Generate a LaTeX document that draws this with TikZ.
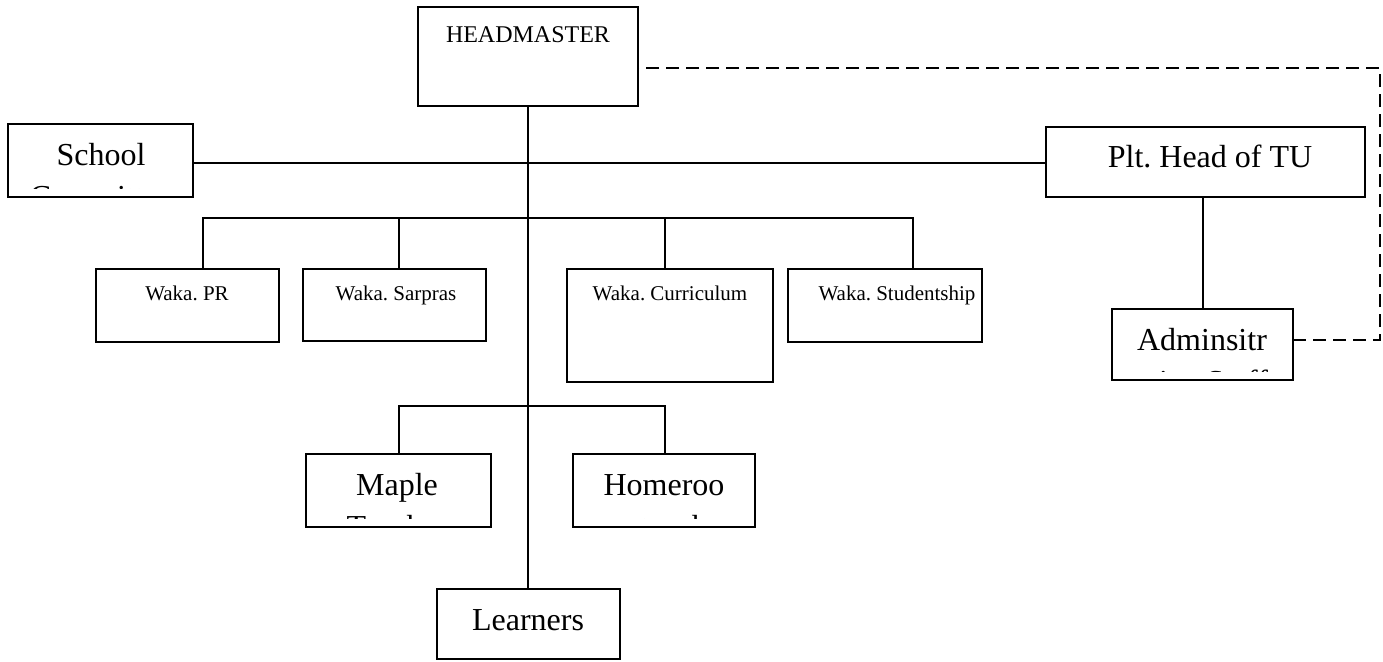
\documentclass[tikz,border=0pt]{standalone}
\usepackage{fontspec}
\setmainfont{Liberation Serif}
\frenchspacing
\begin{document}
\begin{tikzpicture}[x=1pt,y=-1pt,
  box/.style={draw,line width=1.6pt,rectangle,inner sep=0pt,outer sep=0pt,anchor=north west},
  ln/.style={line width=1.6pt},
  dln/.style={line width=1.6pt,dash pattern=on 13pt off 7pt},
  big/.style={anchor=base,inner sep=0pt,font=\fontsize{32}{38}\selectfont},
  mid/.style={anchor=base,inner sep=0pt,font=\fontsize{24}{28}\selectfont},
  sml/.style={anchor=base,inner sep=0pt,font=\fontsize{21}{25}\selectfont}]
\useasboundingbox (0,0) rectangle (1383,661);
% boxes
\node[box,minimum width=220pt,minimum height=99pt] (hm) at (418,7) {};
\node[box,minimum width=185pt,minimum height=73pt] (sc) at (8,124) {};
\node[box,minimum width=319pt,minimum height=70pt] (plt) at (1046,127) {};
\node[box,minimum width=181pt,minimum height=71pt] (adm) at (1112,309) {};
\node[box,minimum width=183pt,minimum height=73pt] (pr) at (96,269) {};
\node[box,minimum width=183pt,minimum height=72pt] (sar) at (303,269) {};
\node[box,minimum width=206pt,minimum height=113pt] (cur) at (567,269) {};
\node[box,minimum width=194pt,minimum height=73pt] (stu) at (788,269) {};
\node[box,minimum width=185pt,minimum height=73pt] (map) at (306,454) {};
\node[box,minimum width=182pt,minimum height=73pt] (hom) at (573,454) {};
\node[box,minimum width=183pt,minimum height=70pt] (lea) at (437,589) {};
% texts
\node[mid] (hmT) at (528,42) {HEADMASTER};
\node[big] (pltT) at (1210,167) {Plt. Head of TU};
\node[sml] (prT) at (187,300) {Waka. PR};
\node[sml] (sarT) at (396,300) {Waka. Sarpras};
\node[sml] (curT) at (670,300) {Waka. Curriculum};
\node[sml] (stuT) at (897,300) {Waka. Studentship};
\node[big] (leaT) at (528,630) {Learners};
\begin{scope}
\clip (8,124) rectangle (193,188.5);
\node[big] (scT) at (101,165) {School};
\node[big] (scT2) at (101,207) {Committee};
\end{scope}
\begin{scope}
\clip (1112,309) rectangle (1293,371.5);
\node[big] (admT) at (1202,350) {Adminsitr};
\node[big] (admT2) at (1202,392) {ative Staff};
\end{scope}
\begin{scope}
\clip (306,454) rectangle (491,518.5);
\node[big] (mapT) at (397,495) {Maple};
\node[big] (mapT2) at (397,537) {Teacher};
\end{scope}
\begin{scope}
\clip (573,454) rectangle (755,518.5);
\node[big] (homT) at (664,495) {Homeroo};
\node[big] (homT2) at (670,537) {m teacher};
\end{scope}
% connectors
\draw[ln] (hm.south) -- (hm.south |- lea.north);
\coordinate (hy) at (0,163);
\draw[ln] (sc.east |- hy) -- (plt.west |- hy);
\coordinate (d1) at (203,218);
\coordinate (d2) at (399,218);
\coordinate (d3) at (665,218);
\coordinate (d4) at (913,218);
\draw[ln] (d1 |- pr.north) -- (d1) -- (d4) -- (d4 |- stu.north);
\draw[ln] (d2) -- (d2 |- sar.north);
\draw[ln] (d3) -- (d3 |- cur.north);
\coordinate (m1) at (399,406);
\coordinate (m2) at (665,406);
\draw[ln] (m1 |- map.north) -- (m1) -- (m2) -- (m2 |- hom.north);
\coordinate (av) at (1203,0);
\draw[ln] (av |- plt.south) -- (av |- adm.north);
\coordinate (dtop) at (1380,68);
\coordinate (dbot) at (1380,340);
\draw[dln] (adm.east |- dbot) -- (dbot) -- (dtop) -- (hm.east |- dtop);
\end{tikzpicture}
\end{document}
